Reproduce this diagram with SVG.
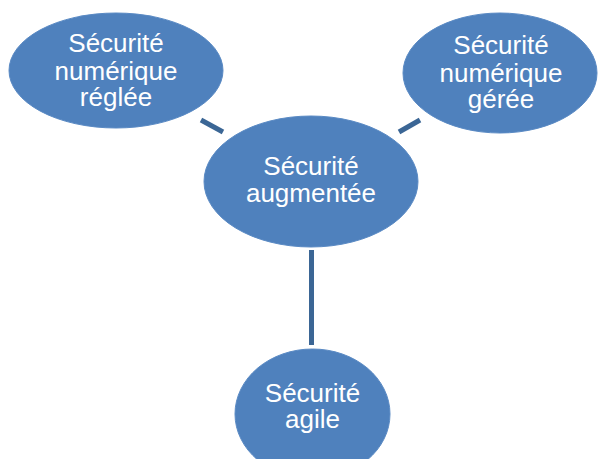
<svg xmlns="http://www.w3.org/2000/svg" width="598" height="459" viewBox="0 0 598 459">
  <style>
    .node ellipse { fill: #4f81bd; stroke: #5a8ac4; stroke-width: 1; }
    .node text { fill: #ffffff; font-family: "Liberation Sans", Arial, sans-serif; font-size: 26px; text-anchor: middle; }
    .link { stroke: #3b6695; stroke-width: 5; fill: none; }
  </style>
  <rect width="598" height="459" fill="#ffffff"/>

  <g id="connectors">
    <line class="link" x1="201" y1="120" x2="223" y2="132"/>
    <line class="link" x1="399" y1="132" x2="420" y2="120"/>
    <line class="link" x1="311.5" y1="250" x2="311.5" y2="345"/>
  </g>

  <g id="node-reglee" class="node">
    <ellipse cx="116" cy="70.5" rx="107" ry="57.5"/>
    <text x="116" y="52">Sécurité</text>
    <text x="116" y="80">numérique</text>
    <text x="116" y="106">réglée</text>
  </g>

  <g id="node-geree" class="node">
    <ellipse cx="500" cy="73" rx="97" ry="60"/>
    <text x="501" y="54">Sécurité</text>
    <text x="501" y="82">numérique</text>
    <text x="501" y="108">gérée</text>
  </g>

  <g id="node-augmentee" class="node">
    <ellipse cx="311" cy="181.5" rx="107" ry="65.5"/>
    <text x="311" y="175">Sécurité</text>
    <text x="311" y="202">augmentée</text>
  </g>

  <g id="node-agile" class="node">
    <ellipse cx="312.5" cy="414" rx="77.5" ry="65"/>
    <text x="312.5" y="402">Sécurité</text>
    <text x="312.5" y="428">agile</text>
  </g>
</svg>
